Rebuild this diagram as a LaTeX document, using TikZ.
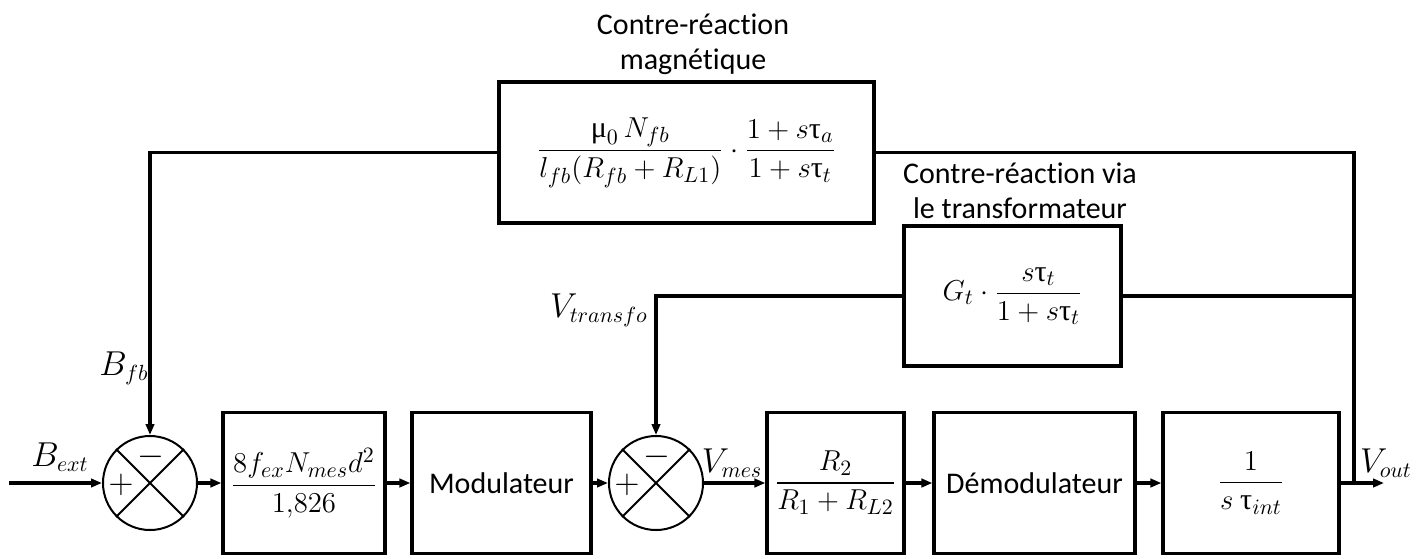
\documentclass[tikz,border=0pt]{standalone}
\usepackage{amsmath}
\usepackage[no-math]{fontspec}
\setmainfont[Ligatures=NoCommon]{Carlito}
\newfontfamily\grkfont{Liberation Serif}
\newcommand{\gtau}{\text{\grkfont τ}}
\newcommand{\gmu}{\text{\grkfont μ}}
\usetikzlibrary{positioning,arrows.meta}

\begin{document}
\begin{tikzpicture}[
  x=0.5pt, y=-0.5pt,
  font=\fontsize{15}{17.5}\selectfont,
  line width=1.6pt,
  blk/.style = {draw, inner sep=0pt, minimum height=70.5pt},
  sum/.style = {draw, circle, line width=1pt, minimum size=47pt, inner sep=0pt},
  crs/.style = {line width=1pt},
  sgn/.style = {inner sep=0pt, font=\fontsize{19}{20}\selectfont},
  arr/.style = {-{Triangle[length=5.5pt, width=4.2pt]}},
  lbl/.style = {inner sep=0pt, font=\fontsize{16}{18}\selectfont},
  ttl/.style = {align=center, inner sep=0pt},
]
\useasboundingbox (0,0) rectangle (1428,558);

% ======================= forward chain =================================
\node[sum] (s1) at (150,483) {};
\node[blk, minimum width=81pt]    (gain) at (304,483)
  {$\dfrac{8f_{ex}N_{mes}d^2}{1{,}826}$};
\node[blk, minimum width=89.5pt]  (mod)  at (501.5,483) {Modulateur};
\node[sum] (s2) at (656,483) {};
\node[blk, minimum width=68.5pt]  (div)  at (835.5,483)
  {$\dfrac{R_2}{R_1+R_{L2}}$};
\node[blk, minimum width=100.5pt] (dem)  at (1034.5,483) {Démodulateur};
\node[blk, minimum width=88pt]    (intg) at (1251,483)
  {$\dfrac{1}{s\ \gtau_{int}}$};

\foreach \s in {s1,s2} {
  \draw[crs] (\s.north west) -- (\s.south east)
             (\s.north east) -- (\s.south west);
}
\node[sgn] (s1p) at (121,485) {$+$};
\node[sgn] (s1m) at (151,457) {$-$};
\node[sgn] (s2p) at (627,485) {$+$};
\node[sgn] (s2m) at (657,457) {$-$};

\coordinate (in)  at (9,483);
\coordinate (out) at (1384,483);
\coordinate (br)  at (1354,483);

\draw[arr] (in) -- (s1.west);
\draw[arr] (s1.east) -- (gain.west);
\draw[arr] (gain.east) -- (mod.west);
\draw[arr] (mod.east) -- (s2.west);
\draw[arr] (s2.east) -- (div.west);
\draw[arr] (div.east) -- (dem.west);
\draw[arr] (dem.east) -- (intg.west);
\draw[arr] (intg.east) -- (out);

\node[lbl] (bext) at (60,457)   {$B_{ext}$};
\node[lbl] (vmes) at (732,463)  {$V_{mes}$};
\node[lbl] (vout) at (1386,463) {$V_{out}$};

% ======================= magnetic feedback =============================
\node[blk, minimum width=187.5pt] (fbm) at (686.5,152.5)
  {$\dfrac{\gmu_0\,N_{fb}}{l_{fb}(R_{fb}+R_{L1})}\cdot\dfrac{1+s\gtau_a}{1+s\gtau_t}$};
\node[ttl] (tfbm) at (693,44) {Contre-réaction\\magnétique};
\draw (fbm.east) -| (br);
\draw[arr] (fbm.west) -| (s1.north);
\node[lbl] (bfb) at (124,368) {$B_{fb}$};

% ======================= transformer feedback ==========================
\node[blk, minimum width=108.5pt, minimum height=70pt] (trf) at (1012.5,296)
  {$G_t\cdot\dfrac{s\gtau_t}{1+s\gtau_t}$};
\node[ttl] (ttrf) at (1020,191) {Contre-réaction via\\le transformateur};
\draw (trf.east) -- (trf.east -| br);
\draw[arr] (trf.west) -| (s2.north);
\node[lbl] (vtr) at (599,310) {$V_{transfo}$};

\end{tikzpicture}
\end{document}
